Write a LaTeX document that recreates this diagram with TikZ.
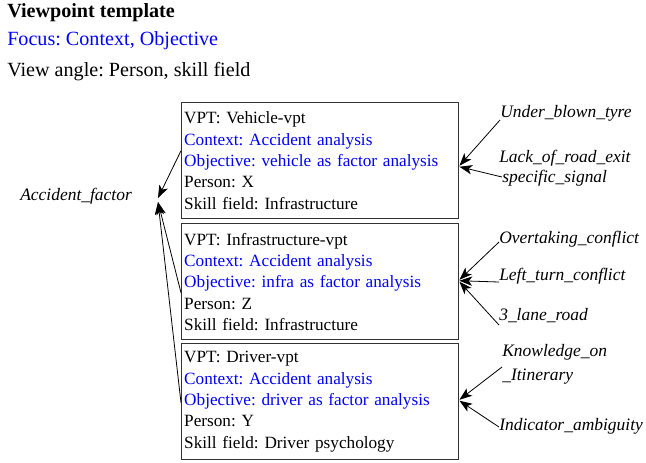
\documentclass[tikz,border=0pt]{standalone}
\usepackage{fontspec}
\setmainfont{Liberation Serif}
\usetikzlibrary{arrows.meta,calc}
\definecolor{txtblue}{RGB}{0,0,255}
\frenchspacing
\begin{document}
\begin{tikzpicture}[x=0.75pt,y=-0.75pt,
  hdr/.style={font=\fontsize{15.1}{17}\selectfont, anchor=base west, inner sep=0pt},
  lab/.style={font=\fontsize{13.1}{16}\selectfont\itshape, anchor=base west, inner sep=0pt},
  vpbox/.style={draw=black!80, line width=1.1pt, anchor=north west,
    minimum width=207.75pt, minimum height=87pt, inner xsep=1.5pt, inner ysep=0pt,
    text width=204pt, align=left, font=\fontsize{12.9}{16}\selectfont},
  arr/.style={-{Stealth[length=9.5pt,width=7pt,inset=2.5pt]}, line width=0.6pt}]
\useasboundingbox (0,0) rectangle (646,462);

% header
\node[hdr] (t0) at (7,17) {\bfseries Viewpoint template};
\node[hdr, text=txtblue] (t1) at (7,45) {Focus: Context, Objective};
\node[hdr] (t2) at (7,76) {View angle: Person, skill field};

% boxes
\node[vpbox] (b1) at (181,102) {VPT: Vehicle-vpt\\
  \textcolor{txtblue}{Context: Accident analysis}\\
  \textcolor{txtblue}{Objective: vehicle as factor analysis}\\
  Person: X\\
  Skill field: Infrastructure};
\node[vpbox] (b2) at (181,223) {VPT: Infrastructure-vpt\\
  \textcolor{txtblue}{Context: Accident analysis}\\
  \textcolor{txtblue}{Objective: infra as factor analysis}\\
  Person: Z\\
  Skill field: Infrastructure};
\node[vpbox] (b3) at (181,343) {VPT: Driver-vpt\\
  \textcolor{txtblue}{Context: Accident analysis}\\
  \textcolor{txtblue}{Objective: driver as factor analysis}\\
  Person: Y\\
  Skill field: Driver psychology};

% left label
\node[lab] (af) at (20,200) {Accident\_factor};
\coordinate (afin) at (158,202);

\draw[arr] ($(b1.west)+(0,-10)$) -- ($(afin)+(0,-4)$);
\draw[arr] ($(b2.west)+(0,11)$) -- (afin);
\draw[arr] ($(b3.west)+(0,1)$) -- (afin);

% right labels
\node[lab] (r1) at (500,117) {Under\_blown\_tyre};
\node[lab] (r2a) at (499,162) {Lack\_of\_road\_exit};
\node[lab] (r2b) at (502,182) {specific\_signal};
\node[lab] (r3) at (499,243) {Overtaking\_conflict};
\node[lab] (r4) at (499,280) {Left\_turn\_conflict};
\node[lab] (r5) at (499,320) {3\_lane\_road};
\node[lab] (r6a) at (502,356) {Knowledge\_on};
\node[lab] (r6b) at (502,380) {\_Itinerary};
\node[lab] (r7) at (499,430) {Indicator\_ambiguity};

\draw[arr] ($(r1.base west)+(0,3)$) -- ($(b1.east)+(0,5)$);
\draw[arr] ($(r2b.base west)+(0,-5)$) -- ($(b1.east)+(0,6)$);
\draw[arr] ($(r3.base west)+(0,-1)$) -- ($(b2.east)+(0,-2)$);
\draw[arr] ($(r4.base west)+(0,2)$) -- ($(b2.east)+(0,-1)$);
\draw[arr] ($(r5.base west)+(0,5)$) -- ($(b2.east)+(0,0)$);
\draw[arr] ($(r6b.base west)+(0,-13)$) -- ($(b3.east)+(0,-2)$);
\draw[arr] ($(r7.base west)+(0,-3)$) -- ($(b3.east)+(0,-1)$);
\end{tikzpicture}
\end{document}
